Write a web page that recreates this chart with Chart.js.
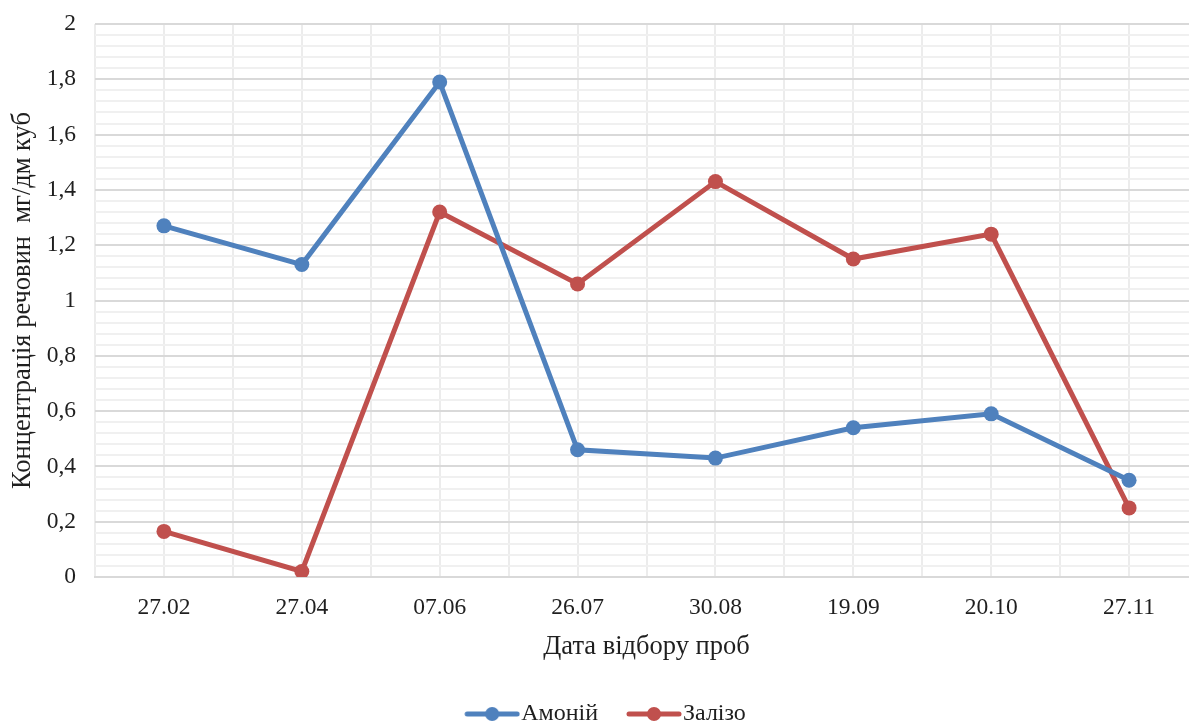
<!DOCTYPE html>
<html>
<head>
<meta charset="utf-8">
<script src="https://cdn.jsdelivr.net/npm/chart.js@4/dist/chart.umd.min.js"></script>
<style>
  html, body { margin: 0; padding: 0; background: #fff; overflow: hidden; }
  #wrap { width: 1210px; height: 724px; }
</style>
</head>
<body>
<div id="wrap"><canvas id="c" width="1210" height="724"></canvas></div>
<script>
// Sampling dates and measured concentrations (mg/dm³)
const categories = ['27.02', '27.04', '07.06', '26.07', '30.08', '19.09', '20.10', '27.11'];
const ammonium = [1.27, 1.13, 1.79, 0.46, 0.43, 0.54, 0.59, 0.35];
const iron = [0.165, 0.02, 1.32, 1.06, 1.43, 1.15, 1.24, 0.25];
const seriesNames = ['Амоній', 'Залізо'];
const yMin = 0, yMax = 2, yMinorStep = 0.04, yMajorStep = 0.2;

const BLUE = '#4F81BD';
const RED = '#C0504D';
const FONT = '"Liberation Serif", "Times New Roman", serif';
const TEXT = '#1f1f1f';

function isMajor(v) {
  const r = v / yMajorStep;
  return Math.abs(r - Math.round(r)) < 1e-6;
}

// Legend symbol: short line with a marker in the middle (left part is blank spacing)
function legendIcon(color) {
  const lead = 23, len = 56;
  const cv = document.createElement('canvas');
  cv.width = lead + len; cv.height = 16;
  const g = cv.getContext('2d');
  g.strokeStyle = color; g.lineWidth = 5; g.lineCap = 'round';
  g.beginPath(); g.moveTo(lead + 3, 8); g.lineTo(lead + len - 3, 8); g.stroke();
  g.fillStyle = color;
  g.beginPath(); g.arc(lead + len / 2, 8, 7, 0, Math.PI * 2); g.fill();
  return cv;
}
const icons = [legendIcon(BLUE), legendIcon(RED)];

new Chart(document.getElementById('c'), {
  type: 'line',
  data: {
    labels: categories,
    datasets: [
      { label: seriesNames[0], data: ammonium, borderColor: BLUE, backgroundColor: BLUE,
        borderWidth: 5, pointRadius: 7.5, pointHoverRadius: 7.5, pointBorderWidth: 0, tension: 0 },
      { label: seriesNames[1], data: iron, borderColor: RED, backgroundColor: RED,
        borderWidth: 5, pointRadius: 7.5, pointHoverRadius: 7.5, pointBorderWidth: 0, tension: 0 }
    ]
  },
  options: {
    responsive: false,
    animation: false,
    devicePixelRatio: 1,
    layout: { padding: { left: 0, right: 12, top: 24, bottom: -12 } },
    plugins: {
      tooltip: { enabled: false },
      legend: {
        position: 'bottom',
        labels: {
          usePointStyle: true,
          pointStyleWidth: 57,
          boxHeight: 16,
          padding: 16,
          color: TEXT,
          font: { family: FONT, size: 24 },
          generateLabels(chart) {
            const items = Chart.defaults.plugins.legend.labels.generateLabels(chart);
            items.forEach((it, i) => { it.pointStyle = icons[i]; });
            return items;
          }
        }
      }
    },
    scales: {
      x: {
        type: 'category',
        offset: true,
        grid: { offset: false, color: '#ececec', lineWidth: 2, drawTicks: false },
        border: { display: true, color: '#d9d9d9', width: 2 },
        ticks: { color: TEXT, font: { family: FONT, size: 23.5 }, padding: 17, maxRotation: 0 },
        title: { display: true, text: 'Дата відбору проб', color: TEXT,
                 font: { family: FONT, size: 26.5 }, padding: { top: 8, bottom: 23 } },
        afterFit(s) { s.height = 109; }
      },
      x2: {
        type: 'category',
        position: 'top',
        offset: true,
        labels: categories,
        grid: { offset: true, color: '#ececec', lineWidth: 2, drawTicks: false },
        border: { display: false },
        ticks: { display: false },
        afterFit(s) { s.height = 0; }
      },
      y: {
        min: yMin,
        max: yMax,
        border: { display: false },
        grid: {
          drawTicks: false,
          color: c => isMajor(c.tick.value) ? '#d9d9d9' : '#f0f0f0',
          lineWidth: 2
        },
        ticks: {
          stepSize: yMinorStep,
          autoSkip: false,
          padding: 19,
          color: TEXT,
          font: { family: FONT, size: 23.5 },
          callback: v => isMajor(v) ? String(Math.round(v * 10) / 10).replace('.', ',') : ''
        },
        title: { display: true, text: 'Концентрація речовин  мг/дм куб', color: TEXT,
                 font: { family: FONT, size: 26.5 }, padding: { top: 7, bottom: 0 } },
        afterFit(s) { s.width = 95; s.paddingTop = 0; }
      }
    }
  }
});
</script>
</body>
</html>
